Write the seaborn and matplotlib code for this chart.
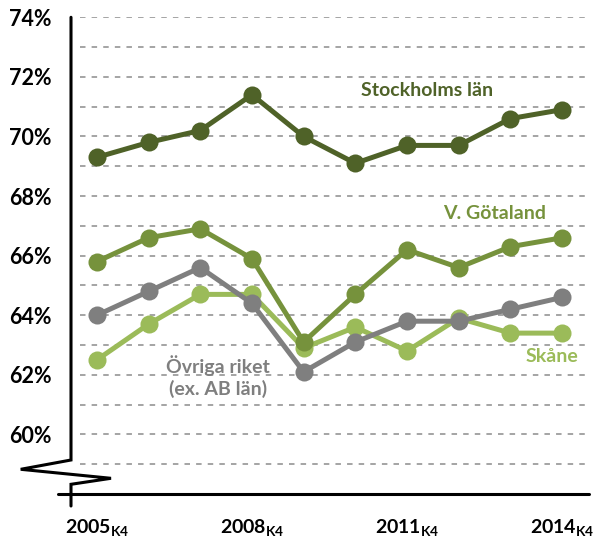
import matplotlib
matplotlib.use("Agg")
import matplotlib.pyplot as plt
import seaborn as sns
import pandas as pd
from matplotlib.lines import Line2D

# ---- data ----
quarters = ["2005", "2006", "2007", "2008", "2009", "2010", "2011", "2012", "2013", "2014"]
tick_years = ["2005", "2008", "2011", "2014"]
stockholm = [69.3, 69.8, 70.2, 71.4, 70.0, 69.1, 69.7, 69.7, 70.6, 70.9]
gotaland = [65.8, 66.6, 66.9, 65.9, 63.1, 64.7, 66.2, 65.6, 66.3, 66.6]
skane = [62.5, 63.7, 64.7, 64.7, 62.9, 63.6, 62.8, 63.9, 63.4, 63.4]
ovriga = [64.0, 64.8, 65.6, 64.4, 62.1, 63.1, 63.8, 63.8, 64.2, 64.6]
series_names = ["Skåne", "Övriga riket", "V. Götaland", "Stockholms län"]
y_labels = ["60%", "62%", "64%", "66%", "68%", "70%", "72%", "74%"]

colors = {
    "Stockholms län": "#4F6228",
    "V. Götaland": "#76923C",
    "Skåne": "#9BBB59",
    "Övriga riket": "#7F7F7F",
}

rows = []
for name, vals in zip(series_names, [skane, ovriga, gotaland, stockholm]):
    for i, v in enumerate(vals):
        rows.append({"x": i, "val": v, "series": name})
df = pd.DataFrame(rows)

sns.set_style("white")
plt.rcParams["font.family"] = ["Lato", "DejaVu Sans"]
plt.rcParams["mathtext.fontset"] = "custom"
plt.rcParams["mathtext.bf"] = "Lato:bold"
plt.rcParams["mathtext.rm"] = "Lato:bold"

fig = plt.figure(figsize=(5.97, 5.38), dpi=100)
ax = fig.add_axes([71 / 597, 1 - 494 / 538, (589 - 71) / 597, (494 - 17.3) / 538])

sns.lineplot(data=df, x="x", y="val", hue="series", hue_order=series_names,
             palette=colors, marker="o", markersize=13, markeredgewidth=0,
             linewidth=3.6, ax=ax, legend=False, zorder=3)

ax.set_xlim(-0.5, 9.52)
ax.set_ylim(58, 74)


def fx(px):
    return (px - 71) / (589 - 71)


def fy(py):
    return (494 - py) / (494 - 17.3)


# y ticks / grid
major = [int(s.rstrip("%")) for s in y_labels]
ax.set_yticks(major)
ax.set_yticklabels(y_labels, fontsize=15.5, fontweight="bold")
minor = [m + 1 for m in major[:-1]] + [major[0] - 1]
for gy in major + minor:
    ax.axhline(gy, xmin=fx(80), xmax=1.0, color="#8C8C8C", linewidth=1.1,
               linestyle=(0, (3.6, 4.0)), zorder=0)
ax.grid(False)
ax.tick_params(axis="y", which="both", length=0, pad=14, colors="black")

# x ticks
xt = [quarters.index(y) for y in tick_years]
ax.set_xticks(xt)
ax.set_xticklabels([y + r"$_{\mathbf{K4}}$" for y in tick_years], fontsize=14, fontweight="bold")
ax.tick_params(axis="x", length=0, pad=17, colors="black")
ax.set_xlabel("")
ax.set_ylabel("")

for s in ax.spines.values():
    s.set_visible(False)

# broken y axis and x axis drawn in axes fraction coordinates
axis_kw = dict(transform=ax.transAxes, color="black", linewidth=2.2, clip_on=False,
               solid_joinstyle="miter", zorder=5)
ax.add_line(Line2D([fx(71), fx(71), fx(20.7), fx(111), fx(71), fx(71)],
                   [fy(17.3), fy(460), fy(469.3), fy(478.3), fy(484.3), fy(506)], **axis_kw))
ax.add_line(Line2D([fx(57.7), fx(589)], [fy(494), fy(494)], **axis_kw))

# series labels
lab_kw = dict(fontsize=14, fontweight="bold", ha="center", va="center")
ax.text(6.38, 71.55, "Stockholms län", color=colors["Stockholms län"], **lab_kw)
ax.text(7.7, 67.42, "V. Götaland", color=colors["V. Götaland"], **lab_kw)
ax.text(8.8, 62.6, "Skåne", color=colors["Skåne"], **lab_kw)
ax.text(2.35, 61.94, "Övriga riket\n(ex. AB län)", color=colors["Övriga riket"],
        multialignment="center", linespacing=1.2, **lab_kw)

fig.savefig("out.png", dpi=100)
